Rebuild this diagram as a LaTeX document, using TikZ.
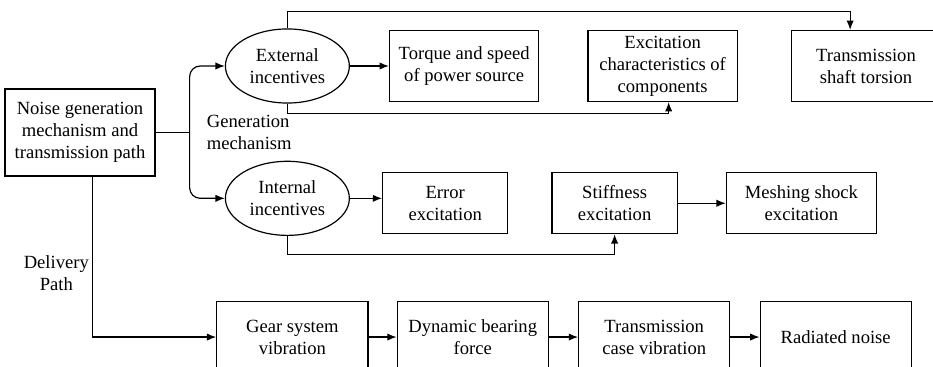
\documentclass[tikz,border=0pt]{standalone}
\usepackage{fontspec}
\setmainfont{Liberation Serif}
\usetikzlibrary{arrows.meta, positioning, shapes.geometric, calc}
\tikzstyle{source}    = [rectangle, minimum width=39.7mm, minimum height=23mm, text centered, align=center, draw=black, line width=0.9pt]
\tikzstyle{incentive} = [ellipse, minimum width=32.8mm, minimum height=19.6mm, inner sep=0pt, text centered, align=center, draw=black, line width=0.9pt]
\tikzstyle{block}     = [rectangle, minimum width=39.5mm, minimum height=18.8mm, text centered, align=center, draw=black, line width=0.9pt]
\tikzstyle{minor}     = [rectangle, minimum width=33.1mm, minimum height=16.1mm, text centered, align=center, draw=black, line width=0.9pt]
\tikzstyle{stage}     = [rectangle, minimum width=40mm, minimum height=19mm, text centered, align=center, draw=black, line width=0.9pt]
\tikzstyle{line}      = [line width=0.9pt]
\tikzstyle{arrow}     = [line width=0.9pt,->,>={Latex[length=7pt,width=5.5pt]}]
\begin{document}
\begin{tikzpicture}[font=\fontsize{14}{16.5}\selectfont]
\useasboundingbox (-21.17mm,35.06mm) rectangle (225.69mm,-61.78mm);

\node (noise) [source] at (0,0) {Noise generation\\mechanism and\\transmission path};
\node (ext) [incentive, right=18.3mm of noise, yshift=17.6mm] {External\\incentives};
\node (int) [incentive, below=15.1mm of ext] {Internal\\incentives};

\node (torque) [block, right=10.3mm of ext] {Torque and speed\\of power source};
\node (excit) [block, right=12.7mm of torque] {Excitation\\characteristics of\\components};
\node (shaft) [block, right=14mm of excit] {Transmission\\shaft torsion};

\node (err) [minor, right=8.5mm of int, yshift=-1.3mm] {Error\\excitation};
\node (stiff) [minor, right=11.4mm of err] {Stiffness\\excitation};
\node (mesh) [minor, minimum width=39.7mm, right=12.7mm of stiff] {Meshing shock\\excitation};

\node (gear) [stage, below=32.8mm of noise, xshift=56.2mm] {Gear system\\vibration};
\node (bearing) [stage, right=7.4mm of gear] {Dynamic bearing\\force};
\node (case) [stage, right=7.7mm of bearing] {Transmission\\case vibration};
\node (radiated) [stage, right=7.7mm of case] {Radiated noise};

\coordinate (fork) at ($(noise.east)+(9mm,0)$);
\coordinate (dstart) at ($(noise.south)+(3.2mm,0)$);

% Generation mechanism branch
\draw [line] (noise.east) -- (fork);
\draw [arrow, rounded corners=8pt] (fork) |- (ext.west);
\draw [arrow, rounded corners=8pt] (fork) |- (int.west);
\node (genlabel) [right=4.5mm of fork, inner sep=0pt, align=left] {Generation\\mechanism};

% External incentives
\draw [arrow] (ext.east) -- (torque.west);
\draw [arrow] (ext.north) -- ++(0,4.5mm) -| ($(shaft.north)+(-4.2mm,0)$);
\draw [arrow] (ext.south) -- ++(0,-2.6mm) -| ($(excit.south)+(1.6mm,0)$);

% Internal incentives
\draw [arrow] (int.east) -- (int.east -| err.west);
\draw [arrow] (int.south) -- ++(0,-4.8mm) -| (stiff.south);
\draw [arrow] (stiff.east) -- (mesh.west);

% Delivery path
\draw [arrow] (dstart) |- node[left, pos=0.3, align=center, inner sep=2pt]{Delivery\\Path} (gear.west);
\draw [arrow] (gear) -- (bearing);
\draw [arrow] (bearing) -- (case);
\draw [arrow] (case) -- (radiated);

\end{tikzpicture}
\end{document}
